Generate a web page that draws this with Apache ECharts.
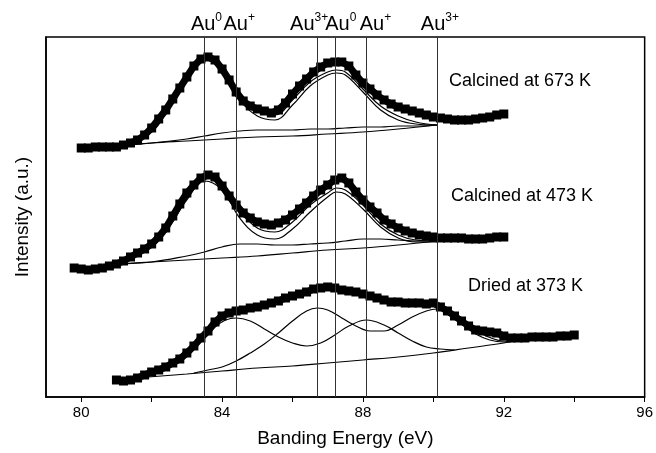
<!DOCTYPE html>
<html>
<head>
<meta charset="utf-8">
<script src="https://cdn.jsdelivr.net/npm/echarts@6/dist/echarts.min.js"></script>
<style>
  html, body { margin: 0; padding: 0; background: #fff; }
  #chart { width: 656px; height: 453px; }
</style>
</head>
<body>
<div id="chart"></div>
<script>
// Au 4f spectra, [binding energy (eV), intensity (a.u.)]
const calc673Data = [[80.0,249],[80.2,249],[80.4,250],[80.6,250],[80.8,250],[81.0,250],[81.2,252],[81.4,254],[81.6,257],[81.8,262],[82.0,269],[82.2,278],[82.4,287],[82.6,298],[82.8,309],[83.0,320],[83.2,331],[83.4,338],[83.6,340],[83.8,337],[84.0,328],[84.2,317],[84.4,305],[84.6,296],[84.8,291],[85.0,288],[85.2,286],[85.4,284],[85.6,287],[85.8,294],[86.0,303],[86.2,311],[86.4,318],[86.6,325],[86.8,330],[87.0,334],[87.2,335],[87.4,335],[87.6,331],[87.8,322],[88.0,314],[88.2,308],[88.4,302],[88.6,297],[88.8,293],[89.0,290],[89.2,288],[89.4,286],[89.6,284],[89.8,282],[90.0,280],[90.2,279],[90.4,278],[90.6,277],[90.8,277],[91.0,277],[91.2,278],[91.4,279],[91.6,280],[91.8,282],[92.0,283]];
const calc673Envelope = [[81.0,251],[82.0,266],[82.5,292],[83.0,319],[83.5,339],[84.0,330],[84.5,301],[85.0,286],[85.5,282],[86.0,297],[86.5,315],[87.0,325],[87.25,327],[87.5,325],[88.0,308],[88.5,291],[89.0,281],[89.5,275],[90.1,272]];
const calc673Au0 = [[81.0,251],[82.0,265],[82.5,290],[83.0,317],[83.5,337],[84.0,327],[84.5,297],[85.0,281],[85.5,277],[86.0,292],[86.5,311],[87.0,322],[87.25,324],[87.5,322],[88.0,305],[88.5,287],[89.0,277],[89.5,273],[90.1,272]];
const calc673AuPlus = [[81.0,251],[82.0,254],[83.0,258],[83.5,261],[84.0,264],[84.5,266],[85.0,267],[85.5,267],[86.0,267],[86.5,268],[87.0,268],[87.5,269],[88.0,270],[88.5,270],[89.0,271],[89.5,271],[90.1,272]];
const calc673Base = [[81.0,251],[82.0,254],[83.0,256],[84.0,258],[85.0,260],[86.0,261],[87.0,263],[88.0,265],[89.0,268],[90.1,272]];

const calc473Data = [[79.8,129],[80.0,128],[80.2,127],[80.4,128],[80.6,129],[80.8,131],[81.0,133],[81.2,136],[81.4,140],[81.6,144],[81.8,148],[82.0,153],[82.2,160],[82.4,169],[82.6,181],[82.8,193],[83.0,204],[83.2,212],[83.4,219],[83.6,222],[83.8,220],[84.0,211],[84.2,201],[84.4,192],[84.6,184],[84.8,179],[85.0,175],[85.2,173],[85.4,172],[85.6,174],[85.8,177],[86.0,182],[86.2,188],[86.4,194],[86.6,201],[86.8,207],[87.0,212],[87.2,217],[87.4,219],[87.6,214],[87.8,205],[88.0,197],[88.2,190],[88.4,184],[88.6,177],[88.8,173],[89.0,169],[89.2,166],[89.4,164],[89.6,162],[89.8,161],[90.0,160],[90.2,159],[90.4,159],[90.6,159],[90.8,159],[91.0,158],[91.2,158],[91.4,158],[91.6,159],[91.8,160],[92.0,160]];
const calc473Envelope = [[81.0,133],[82.0,152],[82.5,173],[83.0,200],[83.5,219],[84.0,213],[84.5,187],[85.0,169],[85.5,165],[86.0,175],[86.5,192],[87.0,204],[87.25,209],[87.5,207],[88.0,192],[88.5,173],[89.0,162],[89.5,157],[90.1,156]];
const calc473Au0 = [[81.0,133],[82.0,150],[82.5,170],[83.0,197],[83.5,216],[84.0,207],[84.5,179],[85.0,162],[85.5,158],[86.0,168],[86.5,185],[87.0,200],[87.25,205],[87.5,203],[88.0,188],[88.5,170],[89.0,159],[89.5,155],[90.1,155]];
const calc473AuPlus = [[81.0,133],[82.0,135],[83.0,141],[83.5,145],[84.0,150],[84.5,153],[85.0,153],[85.5,152],[86.0,152],[86.5,153],[87.0,154],[87.5,156],[88.0,158],[88.5,158],[89.0,157],[89.5,156],[90.1,156]];
const calc473Base = [[81.0,133],[82.0,135],[83.0,137],[84.0,139],[85.0,141],[86.0,144],[87.0,147],[88.0,149],[89.0,152],[90.1,156]];

const dried373Data = [[81.0,17],[81.2,16],[81.4,17],[81.6,19],[81.8,22],[82.0,25],[82.2,27],[82.4,30],[82.6,34],[82.8,38],[83.0,44],[83.2,51],[83.4,59],[83.6,66],[83.8,75],[84.0,81],[84.2,84],[84.4,86],[84.6,87],[84.8,89],[85.0,90],[85.2,92],[85.4,94],[85.6,96],[85.8,99],[86.0,101],[86.2,103],[86.4,105],[86.6,108],[86.8,109],[87.0,110],[87.2,109],[87.4,107],[87.6,106],[87.8,105],[88.0,103],[88.2,101],[88.4,99],[88.6,97],[88.8,95],[89.0,95],[89.2,94],[89.4,94],[89.6,94],[89.8,93],[90.0,94],[90.2,90],[90.4,86],[90.6,81],[90.8,76],[91.0,71],[91.2,67],[91.4,66],[91.6,65],[91.8,64],[92.0,61],[92.2,59],[92.4,59],[92.6,59],[92.8,60],[93.0,60],[93.2,60],[93.4,60],[93.6,61],[93.8,61],[94.0,62]];
const dried373Envelope = [[82.2,24],[83.0,42],[83.5,61],[84.0,79],[84.4,85],[85.0,89],[85.5,94],[86.0,99],[86.5,106],[87.0,108],[87.5,105],[88.0,101],[88.5,97],[89.0,93],[89.5,92],[90.0,91],[90.5,84],[91.0,70],[91.5,61],[92.0,56],[92.4,56]];
const dried373AuPlus = [[82.2,24],[82.6,31],[83.0,42],[83.4,56],[83.8,70],[84.1,77],[84.4,79],[84.8,76],[85.2,68],[85.6,60],[86.0,54],[86.4,51],[86.8,54],[87.2,62],[87.6,71],[88.1,77],[88.6,72],[89.0,64],[89.4,56],[89.8,50],[90.2,48],[90.6,47]];
const dried373Au3 = [[83.2,24],[83.6,27],[84.0,30],[84.4,36],[84.8,44],[85.2,53],[85.6,64],[86.0,76],[86.4,86],[86.7,89],[87.0,87],[87.4,79],[87.8,71],[88.2,66],[88.6,66],[89.0,72],[89.4,80],[89.8,86],[90.1,88],[90.4,84],[90.8,73],[91.2,63],[91.6,57],[92.0,55],[92.4,56]];
const dried373Base = [[81.9,20],[83.0,23],[84.0,26],[85.0,29],[86.0,31],[87.0,34],[88.0,37],[89.0,40],[90.0,44],[91.0,49],[92.0,54],[92.4,57]];

// reference lines for the Au species
const refEnergy = [83.5, 84.4, 86.7, 87.2, 88.1, 90.1];
const refCharge = ['0', '+', '3+', '0', '+', '3+'];
const refLabelShift = [2, 3, -8, 6, 9, 3];

const sampleLabels = ['Calcined at 673 K', 'Calcined at 473 K', 'Dried at 373 K'];

const FONT = "'Liberation Sans', Arial, sans-serif";

const chart = echarts.init(document.getElementById('chart'));

function dataSeries(data) {
  return {
    type: 'line',
    data: data,
    symbol: 'rect',
    symbolSize: 9,
    showAllSymbol: true,
    itemStyle: { color: '#000' },
    lineStyle: { color: '#000', width: 7 },
    z: 2,
    silent: true
  };
}

function fitSeries(data) {
  return {
    type: 'line',
    data: data,
    smooth: 0.4,
    showSymbol: false,
    lineStyle: { color: '#000', width: 1.2 },
    z: 3,
    silent: true
  };
}

const series = [
  dataSeries(calc673Data), fitSeries(calc673Envelope), fitSeries(calc673Au0), fitSeries(calc673AuPlus), fitSeries(calc673Base),
  dataSeries(calc473Data), fitSeries(calc473Envelope), fitSeries(calc473Au0), fitSeries(calc473AuPlus), fitSeries(calc473Base),
  dataSeries(dried373Data), fitSeries(dried373Envelope), fitSeries(dried373AuPlus), fitSeries(dried373Au3), fitSeries(dried373Base)
];

// vertical reference lines with the species labels above the frame
series.push({
  type: 'line',
  data: [],
  markLine: {
    silent: true,
    symbol: 'none',
    animation: false,
    lineStyle: { color: '#333', width: 1, type: 'solid' },
    label: {
      position: 'end',
      distance: 3,
      fontFamily: FONT,
      color: '#000',
      rich: {
        n: { fontSize: 20, fontFamily: FONT, color: '#000', lineHeight: 22, verticalAlign: 'bottom' },
        s: { fontSize: 12, fontFamily: FONT, color: '#000', lineHeight: 22, verticalAlign: 'top' }
      }
    },
    data: refEnergy.map((e, i) => ({
      xAxis: e,
      label: {
        formatter: '{n|Au}{s|' + refCharge[i] + '}',
        offset: [refLabelShift[i], 0]
      }
    }))
  }
});

chart.setOption({
  animation: false,
  backgroundColor: '#fff',
  grid: { left: 46, right: 11, top: 37, bottom: 56, show: true, borderColor: '#000', borderWidth: 1.5 },
  xAxis: {
    type: 'value',
    min: 79,
    max: 96,
    name: 'Banding Energy (eV)',
    nameLocation: 'middle',
    nameGap: 32,
    nameTextStyle: { fontFamily: FONT, fontSize: 19, color: '#000' },
    axisLine: { show: true, onZero: false, lineStyle: { color: '#000', width: 1.5 } },
    axisTick: { show: true, inside: false, length: 5, customValues: [80, 82, 84, 86, 88, 90, 92, 94, 96], lineStyle: { color: '#000', width: 1 } },
    axisLabel: { customValues: [80, 84, 88, 92, 96], fontFamily: FONT, fontSize: 15, color: '#000', margin: 8 },
    splitLine: { show: false }
  },
  yAxis: {
    type: 'value',
    min: 0,
    max: 360,
    name: 'Intensity (a.u.)',
    nameLocation: 'middle',
    nameGap: 14,
    nameTextStyle: { fontFamily: FONT, fontSize: 19, color: '#000' },
    axisLine: { show: true, lineStyle: { color: '#000', width: 1.5 } },
    axisTick: { show: false },
    axisLabel: { show: false },
    splitLine: { show: false }
  },
  series: series,
  graphic: [
    { type: 'text', left: 449, top: 72, style: { text: sampleLabels[0], font: '18px ' + FONT, fill: '#000' } },
    { type: 'text', left: 451, top: 187, style: { text: sampleLabels[1], font: '18px ' + FONT, fill: '#000' } },
    { type: 'text', left: 468, top: 277, style: { text: sampleLabels[2], font: '18px ' + FONT, fill: '#000' } }
  ]
});
</script>
</body>
</html>
